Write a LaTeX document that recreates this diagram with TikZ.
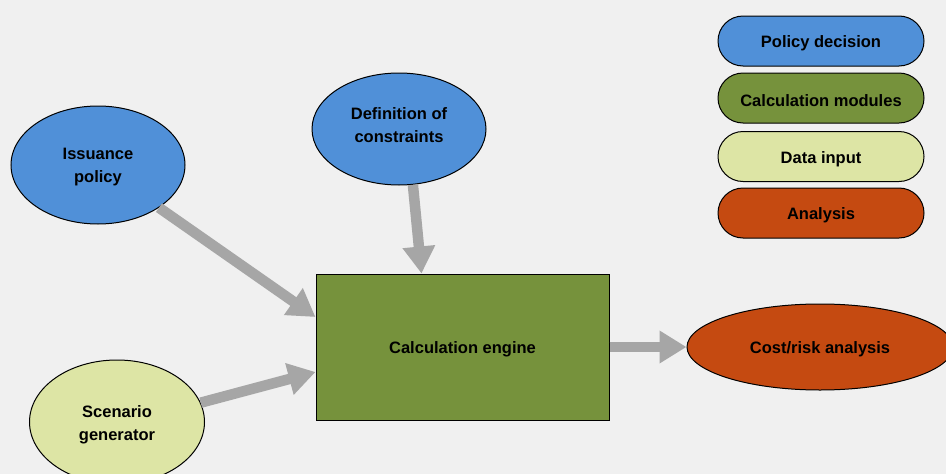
\documentclass[tikz,border=0pt]{standalone}
\usepackage{fontspec}
\setmainfont{Liberation Sans}
\usetikzlibrary{shapes.geometric,arrows.meta,calc}
\definecolor{bg}{RGB}{240,240,240}
\definecolor{polblue}{RGB}{80,144,216}
\definecolor{calcgreen}{RGB}{118,146,60}
\definecolor{datagreen}{RGB}{221,229,165}
\definecolor{anaorange}{RGB}{197,74,17}
\definecolor{arrgray}{RGB}{166,166,166}
\tikzset{
  lbl/.style={font=\fontsize{16.5}{23}\selectfont\bfseries, text=black, align=center, inner sep=0pt},
  txt/.style={label={[lbl,yshift=-2.5pt]center:{#1}}},
  oval/.style={ellipse, draw=black, line width=1pt, inner sep=0pt},
  pill/.style={rectangle, rounded corners=25pt, draw=black, line width=1pt, minimum width=206pt, minimum height=50pt, inner sep=0pt},
  flow/.style={draw=arrgray, line width=10.5pt, -{Triangle[length=27pt,width=31pt]}},
}
\begin{document}
\begin{tikzpicture}[x=1pt,y=-1pt]
\path[use as bounding box, fill=bg] (0,0) rectangle (946,474);
\clip (0,0) rectangle (946,474);
% main nodes
\node[oval, fill=polblue, minimum width=174pt, minimum height=118pt, txt={Issuance\\policy}] (iss) at (98,165) {};
\node[oval, fill=polblue, minimum width=174pt, minimum height=112pt, label={[lbl,yshift=3.5pt]center:{Definition of\\constraints}}] (con) at (399,129) {};
\node[oval, fill=datagreen, minimum width=175pt, minimum height=124pt, txt={Scenario\\generator}] (scn) at (117,422) {};
\node[rectangle, draw=black, line width=1pt, fill=calcgreen, minimum width=293pt, minimum height=146pt, inner sep=0pt, txt={Calculation engine}] (eng) at (462.5,347) {};
\node[oval, fill=anaorange, minimum width=266pt, minimum height=86pt, txt={Cost/risk analysis}] (cost) at (820,347) {};
% legend
\node[pill, fill=polblue, txt={Policy decision}] (l1) at (821,41) {};
\node[pill, fill=calcgreen, txt={Calculation modules}] (l2) at (821,98) {};
\node[pill, fill=datagreen, txt={Data input}] (l3) at (821,156.5) {};
\node[pill, fill=anaorange, txt={Analysis}] (l4) at (821,213) {};
% arrows
\draw[flow] (iss.-35.6) -- ($(eng.west)+(0,-30)$);
\draw[flow] (con.-76) -- ($(eng.north)+(-41,0)$);
\draw[flow] (scn.13) -- ($(eng.west)+(0,25)$);
\draw[flow] (eng.east) -- (cost.west);
\end{tikzpicture}
\end{document}
